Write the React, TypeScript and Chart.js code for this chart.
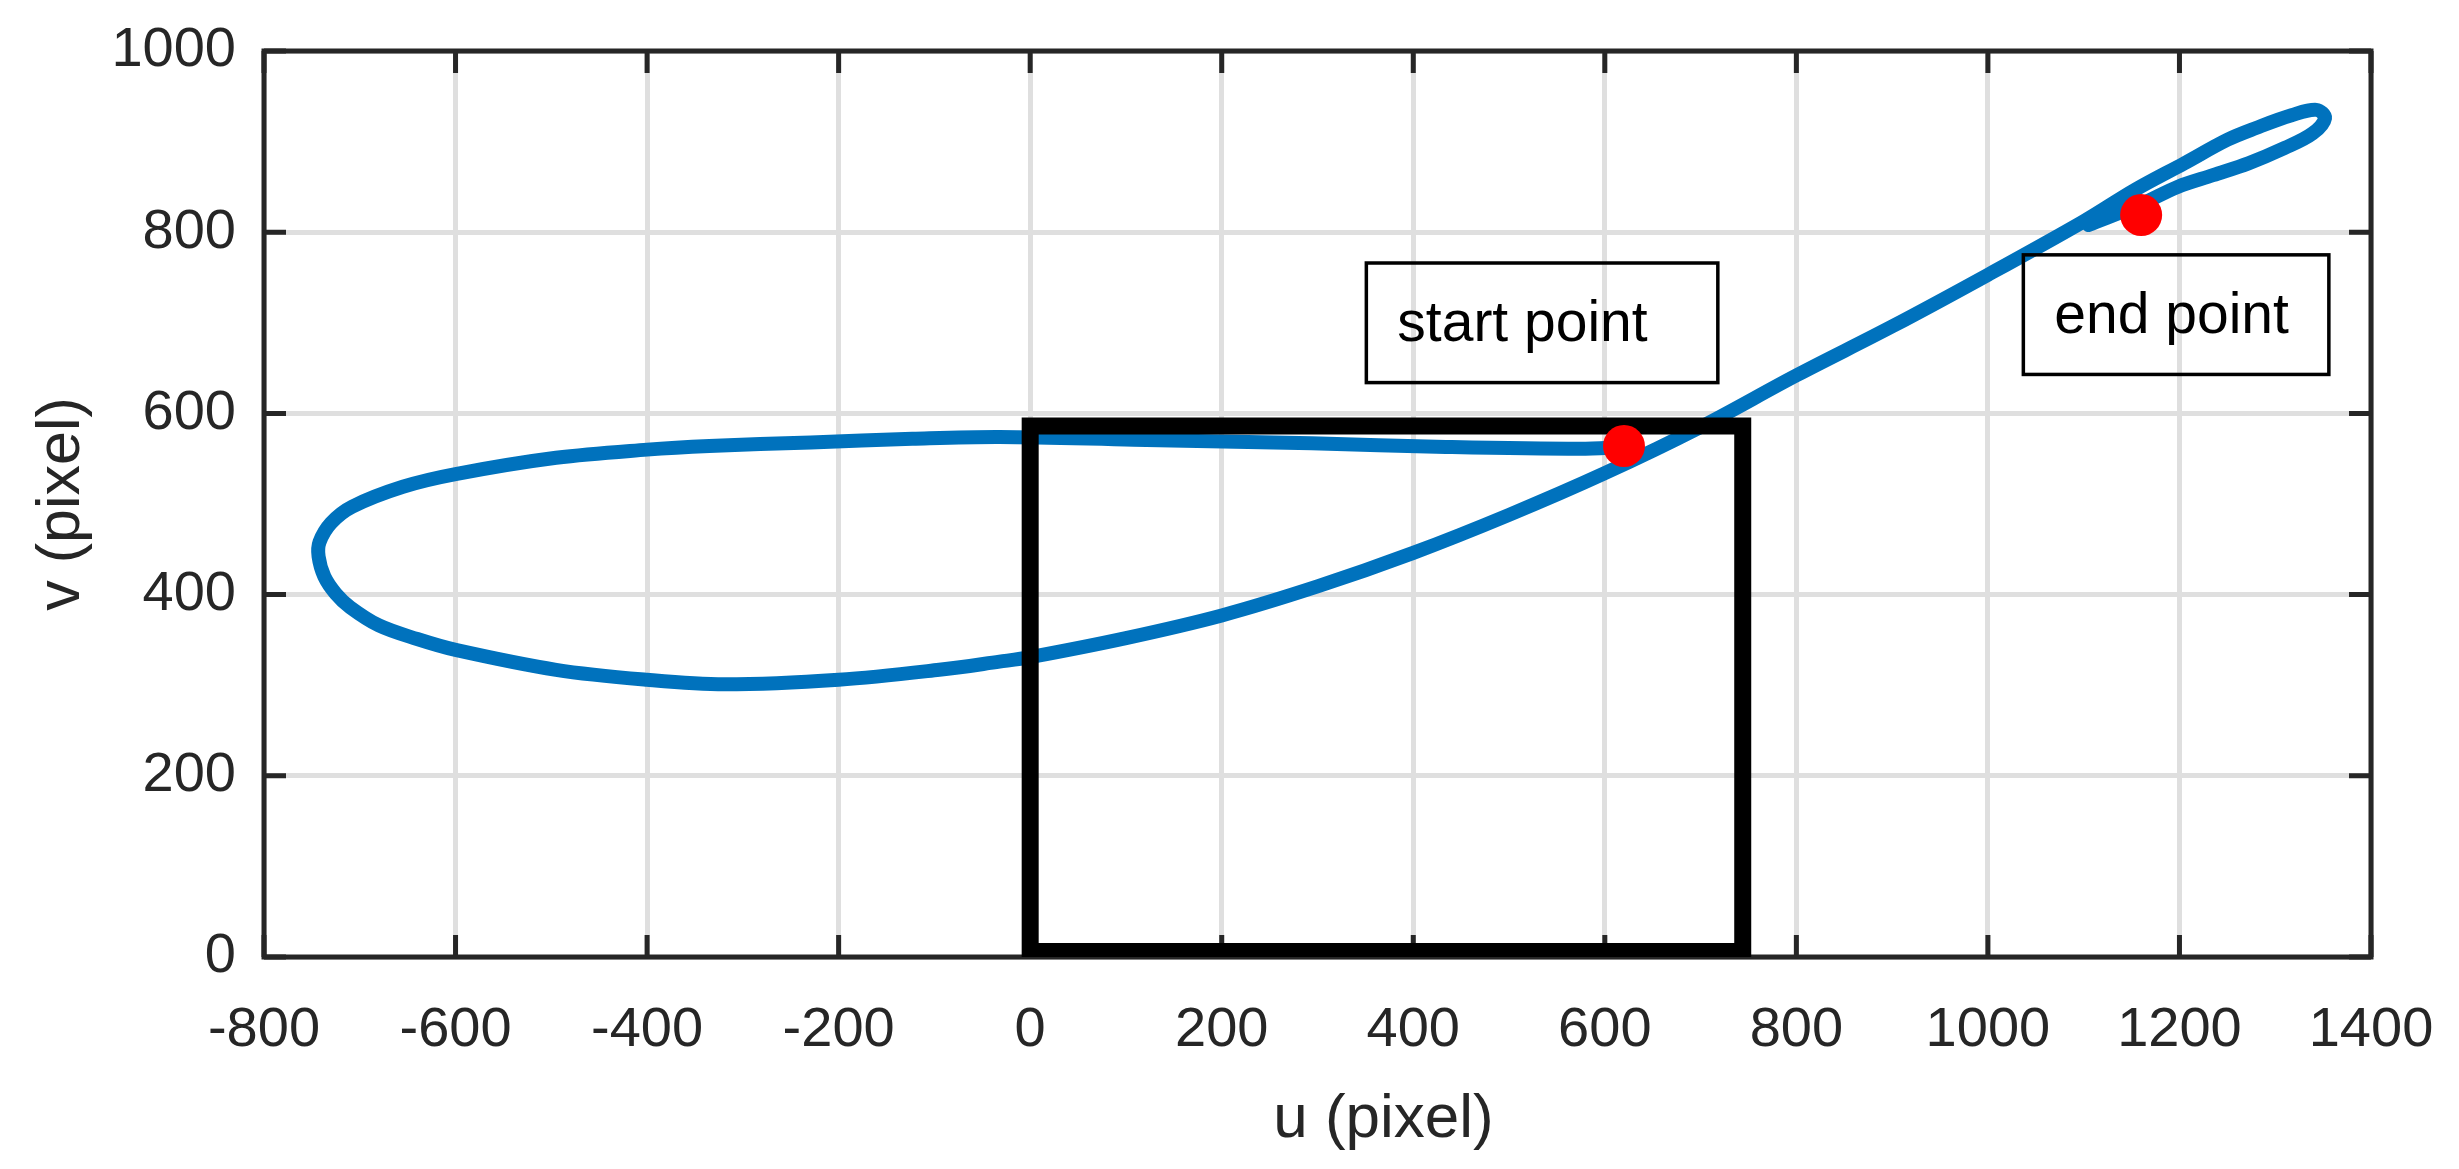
import React, { useEffect, useRef } from "react";
import { Chart, registerables } from "chart.js";

Chart.register(...registerables);

// ---- data ----
const curveU = [620, 574, 434, 294, 108, -32, -123, -229, -335, -400, -495, -600, -655, -708, -730, -742, -743, -737, -725, -710, -680, -640, -600, -495, -400, -319, -200, -95, -32, 0, 100, 200, 300, 400, 500, 600, 700, 800, 900, 1000, 1100, 1154, 1205, 1250, 1280, 1317, 1343, 1352, 1339, 1310, 1272, 1235, 1198, 1160, 1105];
const curveV = [563, 561, 563, 567, 571, 574, 572, 568, 564, 560, 551, 533, 519, 497, 479, 458, 442, 420, 401, 386, 366, 351, 339, 317, 306, 301, 306, 317, 326, 331, 352, 377, 409, 446, 488, 534, 585, 642, 696, 753, 812, 847, 876, 902, 915, 929, 935, 926, 909, 893, 876, 863, 850, 831, 808];

const rectU = [0, 744, 744, 0, 0];
const rectV = [6, 6, 586, 586, 6];

const markerU = [620, 1160];
const markerV = [564, 819];

const xMin = -800;
const xMax = 1400;
const xStep = 200;
const yMin = 0;
const yMax = 1000;
const yStep = 200;

const xTitle = "u (pixel)";
const yTitle = "v (pixel)";

const annotationLabels = ["start point", "end point"];
const annotationU0 = [351, 1037];
const annotationU1 = [718, 1356];
const annotationV0 = [634, 643];
const annotationV1 = [766, 775];

const FONT = "'Liberation Sans', Arial, Helvetica, sans-serif";
const AXIS = "#262626";

const toXY = (us: number[], vs: number[]) => us.map((u, i) => ({ x: u, y: vs[i] }));

export default function App() {
  const ref = useRef<HTMLCanvasElement>(null);

  useEffect(() => {
    document.body.style.margin = "0";
    const canvas = ref.current;
    if (!canvas) return;

    const framePlugin = {
      id: "frame",
      beforeDatasetsDraw(chart: any) {
        const { ctx, chartArea: a, scales } = chart;
        const sx = scales.x;
        const sy = scales.y;
        const tl = 22;
        ctx.save();
        ctx.strokeStyle = AXIS;
        ctx.lineWidth = 5;
        ctx.lineCap = "butt";
        ctx.beginPath();
        sx.ticks.forEach((t: any) => {
          const px = sx.getPixelForValue(t.value);
          ctx.moveTo(px, a.bottom);
          ctx.lineTo(px, a.bottom - tl);
          ctx.moveTo(px, a.top);
          ctx.lineTo(px, a.top + tl);
        });
        sy.ticks.forEach((t: any) => {
          const py = sy.getPixelForValue(t.value);
          ctx.moveTo(a.left, py);
          ctx.lineTo(a.left + tl, py);
          ctx.moveTo(a.right, py);
          ctx.lineTo(a.right - tl, py);
        });
        ctx.stroke();
        ctx.lineJoin = "miter";
        ctx.lineCap = "square";
        ctx.strokeRect(a.left, a.top, a.right - a.left, a.bottom - a.top);
        ctx.restore();
      },
      afterDatasetsDraw(chart: any) {
        const { ctx, scales, chartArea: a } = chart;
        const sx = scales.x;
        const sy = scales.y;
        ctx.save();
        ctx.strokeStyle = "#000000";
        ctx.fillStyle = "#000000";
        ctx.lineWidth = 3.5;
        ctx.font = `57px ${FONT}`;
        ctx.textBaseline = "alphabetic";
        ctx.textAlign = "left";
        annotationLabels.forEach((label, i) => {
          const l = sx.getPixelForValue(annotationU0[i]);
          const r = sx.getPixelForValue(annotationU1[i]);
          const t = sy.getPixelForValue(annotationV1[i]);
          const b = sy.getPixelForValue(annotationV0[i]);
          ctx.strokeRect(l, t, r - l, b - t);
          ctx.fillText(label, l + 31, t + 0.655 * (b - t));
        });
        // x-axis title (sits slightly right of centre in the original figure)
        ctx.fillStyle = AXIS;
        ctx.font = `62px ${FONT}`;
        ctx.textAlign = "center";
        ctx.fillText(xTitle, (a.left + a.right) / 2 + 66, a.bottom + 180);
        ctx.restore();
      },
    };

    const chart = new Chart(canvas, {
      type: "scatter",
      data: {
        datasets: [
          {
            label: "markers",
            data: toXY(markerU, markerV),
            showLine: false,
            pointRadius: 21,
            pointBackgroundColor: "#ff0000",
            pointBorderWidth: 0,
            pointBorderColor: "#ff0000",
            order: 0,
          },
          {
            label: "rect",
            data: toXY(rectU, rectV),
            showLine: true,
            borderColor: "#000000",
            borderWidth: 17,
            borderJoinStyle: "miter",
            borderCapStyle: "square",
            pointRadius: 0,
            tension: 0,
            order: 1,
          },
          {
            label: "trajectory",
            data: toXY(curveU, curveV),
            showLine: true,
            borderColor: "#0072BD",
            borderWidth: 14,
            borderJoinStyle: "round",
            borderCapStyle: "round",
            pointRadius: 0,
            tension: 0.35,
            order: 2,
          },
        ],
      },
      options: {
        responsive: false,
        animation: false,
        events: [],
        layout: { padding: { left: 0, right: 88, top: 51, bottom: 0 } },
        plugins: { legend: { display: false }, tooltip: { enabled: false } },
        scales: {
          x: {
            type: "linear",
            min: xMin,
            max: xMax,
            afterFit: (s: any) => {
              s.height = 212;
              s.paddingLeft = 0;
              s.paddingRight = 0;
            },
            ticks: {
              stepSize: xStep,
              color: AXIS,
              font: { family: FONT, size: 56 },
              padding: 40,
              maxRotation: 0,
              autoSkip: false,
              callback: (v: any) => String(v),
            },
            grid: { color: "#dfdfdf", lineWidth: 5, drawTicks: false },
            border: { display: false },
            title: { display: false, text: xTitle },
          },
          y: {
            type: "linear",
            min: yMin,
            max: yMax,
            afterFit: (s: any) => {
              s.width = 264;
              s.paddingTop = 0;
              s.paddingBottom = 0;
            },
            ticks: {
              stepSize: yStep,
              color: AXIS,
              font: { family: FONT, size: 56 },
              padding: 28,
              autoSkip: false,
              callback: (v: any) => String(v),
            },
            grid: { color: "#dfdfdf", lineWidth: 5, drawTicks: false },
            border: { display: false },
            title: {
              display: true,
              text: yTitle,
              color: AXIS,
              font: { family: FONT, size: 61 },
              padding: { top: 26, bottom: 0 },
            },
          },
        },
      },
      plugins: [framePlugin],
    } as any);

    return () => chart.destroy();
  }, []);

  return (
    <div style={{ position: "absolute", left: 0, top: 0, width: 2459, height: 1169, background: "#fff" }}>
      <canvas ref={ref} width={2459} height={1169} style={{ width: 2459, height: 1169, display: "block" }} />
    </div>
  );
}
